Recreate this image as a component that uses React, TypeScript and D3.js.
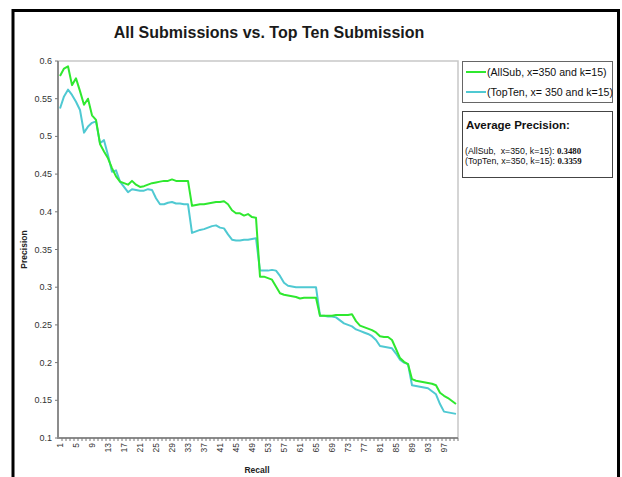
import React from "react";
import * as d3 from "d3";

// Recall positions 1..100
const recall: number[] = Array.from({ length: 100 }, (_, i) => i + 1);

// Precision at each recall position, all submissions (x=350, k=15)
const allSub: number[] = [
  0.580, 0.590, 0.593, 0.568, 0.577, 0.560, 0.542, 0.550, 0.528, 0.522,
  0.490, 0.480, 0.471, 0.458, 0.447, 0.440, 0.438, 0.436, 0.441, 0.436,
  0.433, 0.434, 0.436, 0.438, 0.439, 0.440, 0.441, 0.441, 0.443, 0.441,
  0.441, 0.441, 0.441, 0.408, 0.409, 0.410, 0.410, 0.411, 0.412, 0.413,
  0.413, 0.414, 0.410, 0.402, 0.398, 0.398, 0.395, 0.397, 0.393, 0.392,
  0.314, 0.314, 0.312, 0.310, 0.301, 0.292, 0.290, 0.289, 0.288, 0.287,
  0.285, 0.286, 0.286, 0.286, 0.286, 0.262, 0.262, 0.262, 0.262, 0.263,
  0.263, 0.263, 0.263, 0.264, 0.255, 0.249, 0.247, 0.245, 0.243, 0.240,
  0.235, 0.234, 0.234, 0.230, 0.218, 0.206, 0.201, 0.198, 0.178, 0.176,
  0.175, 0.174, 0.173, 0.172, 0.170, 0.160, 0.156, 0.153, 0.149, 0.145,
];

// Precision at each recall position, top ten submissions (x=350, k=15)
const topTen: number[] = [
  0.537, 0.553, 0.562, 0.555, 0.546, 0.535, 0.505, 0.513, 0.518, 0.520,
  0.491, 0.495, 0.475, 0.453, 0.455, 0.440, 0.433, 0.426, 0.430, 0.429,
  0.428, 0.428, 0.430, 0.429, 0.418, 0.410, 0.410, 0.412, 0.413, 0.411,
  0.411, 0.410, 0.410, 0.372, 0.374, 0.376, 0.377, 0.379, 0.381, 0.382,
  0.379, 0.378, 0.370, 0.363, 0.362, 0.362, 0.363, 0.363, 0.364, 0.365,
  0.322, 0.322, 0.322, 0.323, 0.322, 0.315, 0.306, 0.302, 0.301, 0.300,
  0.300, 0.300, 0.300, 0.300, 0.300, 0.262, 0.262, 0.261, 0.261, 0.260,
  0.256, 0.252, 0.250, 0.248, 0.244, 0.242, 0.240, 0.238, 0.235, 0.230,
  0.222, 0.221, 0.220, 0.219, 0.212, 0.204, 0.200, 0.198, 0.170, 0.169,
  0.168, 0.167, 0.166, 0.162, 0.158, 0.145, 0.135, 0.134, 0.133, 0.132,
];

const yTicks: number[] = [0.1, 0.15, 0.2, 0.25, 0.3, 0.35, 0.4, 0.45, 0.5, 0.55, 0.6];
const seriesNames: string[] = ["(AllSub, x=350 and k=15)", "(TopTen, x= 350 and k=15)"];
const seriesColors: string[] = ["#2fe82f", "#4fc9d2"];
const avgLabels: string[] = ["(AllSub,  x=350, k=15): ", "(TopTen, x=350, k=15): "];
const avgValues: string[] = ["0.3480", "0.3359"];

const W = 622;
const H = 477;
const plot = { left: 58, right: 458, top: 61, bottom: 438 };
const font = "'Liberation Sans', Arial, sans-serif";

export default function App() {
  const x = d3
    .scaleBand<number>()
    .domain(recall)
    .range([plot.left, plot.right])
    .paddingInner(0)
    .paddingOuter(0);
  const y = d3.scaleLinear().domain([0.1, 0.6]).range([plot.bottom, plot.top]);
  const cx = (r: number) => (x(r) as number) + x.bandwidth() / 2;

  const line = d3
    .line<number>()
    .x((_, i) => cx(recall[i]))
    .y((d) => y(d));

  const fmt = (v: number) => String(+v.toFixed(2));

  return (
    <svg
      width={W}
      height={H}
      style={{ position: "absolute", left: 0, top: 0, background: "#fff" }}
      fontFamily={font}
    >
      {/* outer frame */}
      <path d={`M13,${H + 2} V10.5 H618.5 V${H + 2}`} fill="none" stroke="#000" strokeWidth={3} />

      {/* title */}
      <text x={269} y={38} textAnchor="middle" fontSize={16} fontWeight="bold" fill="#1a1a1a">
        All Submissions vs. Top Ten Submission
      </text>

      {/* plot area frame */}
      <path
        d={`M${plot.left},${plot.top} H${plot.right} V${plot.bottom}`}
        fill="none"
        stroke="#c8c8c8"
        strokeWidth={1.5}
      />

      {/* y axis */}
      <line x1={plot.left} x2={plot.left} y1={plot.top} y2={plot.bottom + 1} stroke="#8c8c8c" strokeWidth={2} />
      {yTicks.map((t) => (
        <g key={t}>
          <line x1={plot.left - 3} x2={plot.left} y1={y(t)} y2={y(t)} stroke="#777" strokeWidth={1} />
          <text x={plot.left - 6} y={y(t) + 3} textAnchor="end" fontSize={9} fill="#333">
            {fmt(t)}
          </text>
        </g>
      ))}

      {/* x axis */}
      <line x1={plot.left - 1} x2={plot.right} y1={plot.bottom} y2={plot.bottom} stroke="#8c8c8c" strokeWidth={2} />
      {recall.map((r) => (
        <line
          key={`t${r}`}
          x1={(x(r) as number) + x.bandwidth()}
          x2={(x(r) as number) + x.bandwidth()}
          y1={plot.bottom}
          y2={plot.bottom + 3}
          stroke="#777"
          strokeWidth={1}
        />
      ))}
      {recall
        .filter((r) => (r - 1) % 4 === 0)
        .map((r) => (
          <text
            key={`l${r}`}
            transform={`translate(${cx(r) + 3},${plot.bottom + 5}) rotate(-90)`}
            textAnchor="end"
            fontSize={8.5}
            fill="#333"
          >
            {r}
          </text>
        ))}

      {/* axis titles */}
      <text
        transform={`translate(27,${(plot.top + plot.bottom) / 2}) rotate(-90)`}
        textAnchor="middle"
        fontSize={8.5}
        fontWeight="bold"
        fill="#222"
      >
        Precision
      </text>
      <text x={257} y={473} textAnchor="middle" fontSize={8.5} fontWeight="bold" fill="#222">
        Recall
      </text>

      {/* series */}
      <path d={line(topTen) ?? ""} fill="none" stroke={seriesColors[1]} strokeWidth={2} strokeLinejoin="round" />
      <path d={line(allSub) ?? ""} fill="none" stroke={seriesColors[0]} strokeWidth={2} strokeLinejoin="round" />

      {/* legend */}
      <rect x={462.5} y={61.5} width={150} height={41} fill="#fff" stroke="#666" strokeWidth={1} />
      {seriesNames.map((n, i) => (
        <g key={n}>
          <line x1={466} x2={486} y1={72 + i * 20} y2={72 + i * 20} stroke={seriesColors[i]} strokeWidth={2} />
          <text x={487} y={75.5 + i * 20} fontSize={10.6} fill="#111">
            {n}
          </text>
        </g>
      ))}

      {/* average precision box */}
      <rect x={462.5} y={111.5} width={150} height={66} fill="#fff" stroke="#444" strokeWidth={1} />
      <text x={466} y={129} fontSize={11.5} fontWeight="bold" fill="#111">
        Average Precision:
      </text>
      {avgLabels.map((l, i) => (
        <text key={l} x={465} y={154 + i * 10} fontSize={8.8} fill="#111" xmlSpace="preserve">
          {l}
          <tspan fontFamily="'Liberation Serif', 'Times New Roman', serif" fontWeight="bold">
            {avgValues[i]}
          </tspan>
        </text>
      ))}
    </svg>
  );
}
